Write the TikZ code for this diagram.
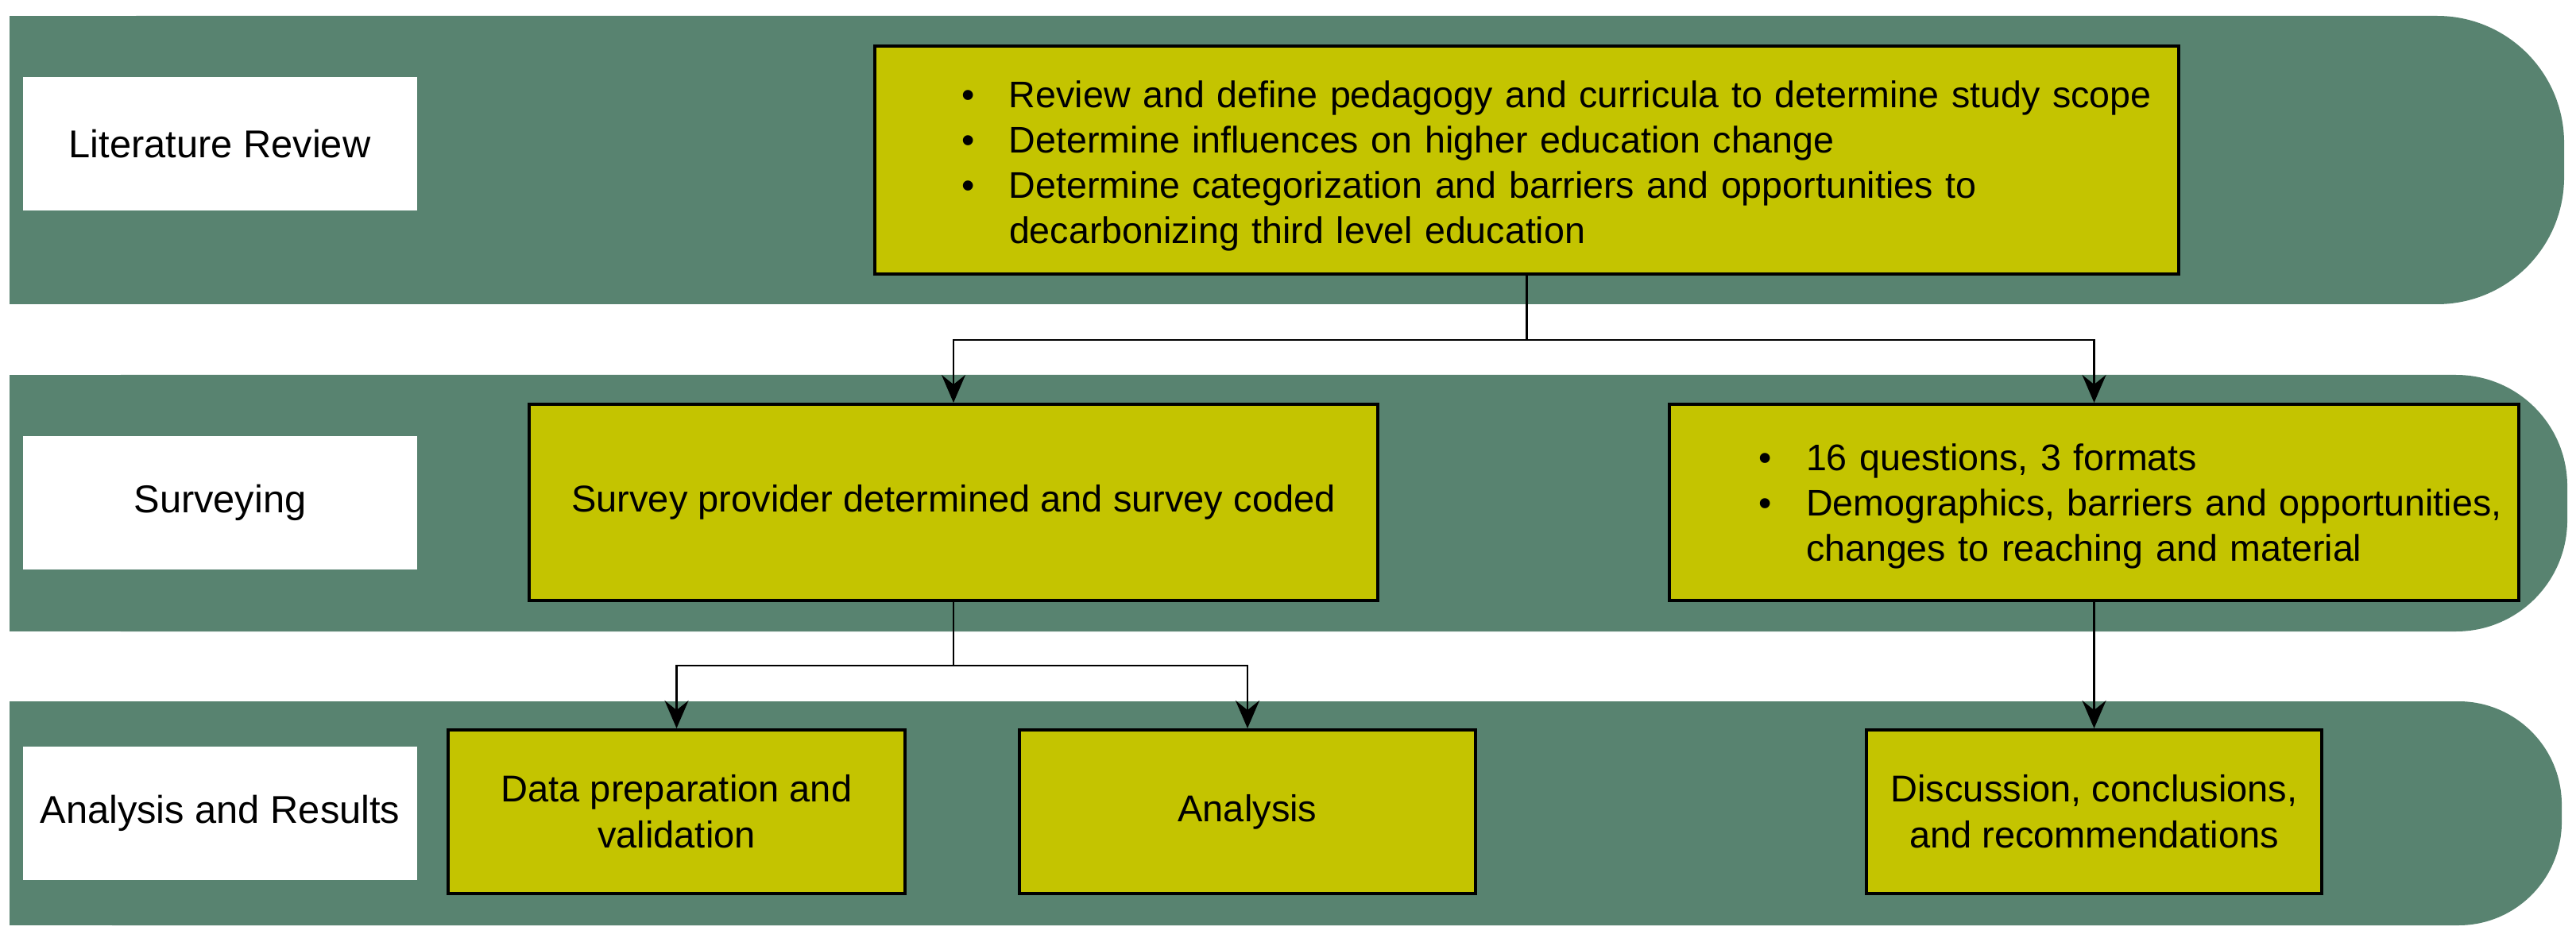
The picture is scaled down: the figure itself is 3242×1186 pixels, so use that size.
\documentclass[tikz,border=0pt]{standalone}
\usepackage{fontspec}
\setmainfont{Liberation Sans}
\usetikzlibrary{arrows.meta}
\definecolor{bandgreen}{RGB}{88,131,112}
\definecolor{boxyellow}{RGB}{196,196,0}
\tikzset{
  bandfill/.style={fill=bandgreen, draw=none},
  lbl/.style={fill=white, draw=none, minimum width=124pt, minimum height=42pt,
    inner sep=0pt, font=\fontsize{12.2}{14.5}\selectfont, align=center},
  ybox/.style={fill=boxyellow, draw=black, line width=1pt, inner sep=0pt,
    font=\fontsize{11.75}{14.5}\selectfont, align=center},
  listbox/.style={ybox, align=left, font=\fontsize{11.65}{14.25}\selectfont},
  conn/.style={draw=black, line width=0.6pt,
    -{Stealth[length=8.75pt,width=7.5pt,inset=3pt]}}
}
\begin{document}
\begin{tikzpicture}[x={(0.25pt,0)}, y={(0,-0.25pt)}]
\useasboundingbox (0,0) rectangle (3242,1186);
% bands
\fill[bandfill, rounded corners=40pt] (12,20) rectangle (3227,383);
\fill[bandfill] (12,20) rectangle (1600,383);
\fill[bandfill, rounded corners=35pt] (12,472) rectangle (3231,795);
\fill[bandfill] (12,472) rectangle (1600,795);
\fill[bandfill, rounded corners=32.5pt] (12,883) rectangle (3224,1165);
\fill[bandfill] (12,883) rectangle (1600,1165);
% labels
\node[lbl] (l1) at (276.5,181) {Literature Review};
\node[lbl] (l2) at (277,632.5) {Surveying};
\node[lbl] (l3) at (277,1023.5) {Analysis and Results};
% boxes
\node[listbox, text width=410.25pt, minimum height=71.75pt] (top) at (1921.5,201.5)
 {\hspace*{27.25pt}\raisebox{-2pt}[\height][\depth]{\begin{tabular}{@{}p{15pt}@{}l@{}}
 \textbullet & Review and define pedagogy and curricula to determine study scope\\
 \textbullet & Determine influences on higher education change\\
 \textbullet & Determine categorization and barriers and opportunities to\\
  & decarbonizing third level education
 \end{tabular}}};
\node[ybox, minimum width=267pt, minimum height=61.75pt] (s1) at (1200,632.5)
 {Survey provider determined and survey coded};
\node[listbox, text width=267.25pt, minimum height=61.75pt] (s2) at (2635.5,632.5)
 {\hspace*{28pt}\raisebox{-1.5pt}[\height][\depth]{\begin{tabular}{@{}p{15pt}@{}l@{}}
 \textbullet & 16 questions, 3 formats\\
 \textbullet & Demographics, barriers and opportunities,\\
  & changes to reaching and material
 \end{tabular}}};
\node[ybox, minimum width=143.75pt, minimum height=51.5pt] (b1) at (851.5,1022)
 {Data preparation and\\validation};
\node[ybox, minimum width=143.5pt, minimum height=51.5pt] (b2) at (1570,1022)
 {Analysis};
\node[ybox, minimum width=143.25pt, minimum height=51.5pt] (b3) at (2635.5,1022)
 {Discussion, conclusions,\\and recommendations};
% connectors
\coordinate (m1) at (1921.5,428);
\coordinate (m2) at (1200,838);
\draw[conn] (top.south) -- (m1) -| (s1.north);
\draw[conn] (m1) -| (s2.north);
\draw[conn] (s1.south) -- (m2) -| (b1.north);
\draw[conn] (m2) -| (b2.north);
\draw[conn] (s2.south) -- (b3.north);
\end{tikzpicture}
\end{document}
